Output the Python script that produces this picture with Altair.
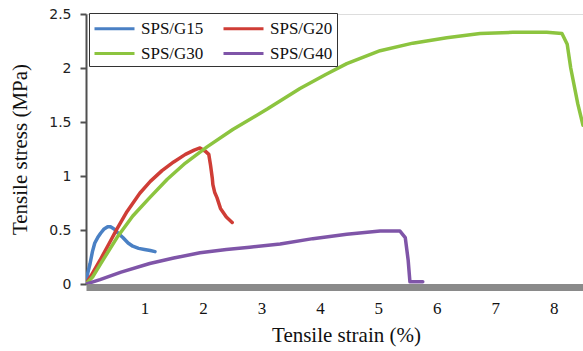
import altair as alt
import pandas as pd

# Tensile stress-strain curves for the SPS/G series
series_names = ["SPS/G15", "SPS/G20", "SPS/G30", "SPS/G40"]
series_colors = ["#4a80c4", "#cf3d36", "#8cc43f", "#7f55a8"]

g15_strain = [0, 0.03, 0.07, 0.11, 0.15, 0.2, 0.25, 0.31, 0.37, 0.42, 0.48, 0.55,
              0.63, 0.72, 0.8, 0.9, 1.0, 1.1, 1.18]
g15_stress = [0, 0.1, 0.19, 0.3, 0.38, 0.43, 0.47, 0.51, 0.53, 0.53, 0.51, 0.47,
              0.43, 0.38, 0.35, 0.33, 0.32, 0.31, 0.30]

g20_strain = [0, 0.1, 0.24, 0.4, 0.53, 0.7, 0.92, 1.1, 1.3, 1.5, 1.7, 1.85, 1.95,
              2.04, 2.1, 2.13, 2.16, 2.17, 2.2, 2.24, 2.3, 2.4, 2.5]
g20_stress = [0, 0.09, 0.22, 0.38, 0.51, 0.67, 0.84, 0.95, 1.05, 1.13, 1.2, 1.24, 1.26,
              1.23, 1.2, 1.1, 0.98, 0.92, 0.85, 0.8, 0.7, 0.62, 0.57]

g30_strain = [0, 0.12, 0.3, 0.53, 0.8, 1.09, 1.39, 1.7, 2.07, 2.51, 3.1, 3.66,
              4.1, 4.46, 5.03, 5.59, 6.17, 6.74, 7.3, 7.88, 8.14, 8.23, 8.29, 8.41, 8.5]
g30_stress = [0, 0.07, 0.23, 0.43, 0.63, 0.8, 0.97, 1.12, 1.27, 1.43, 1.62, 1.81,
              1.94, 2.04, 2.16, 2.23, 2.28, 2.32, 2.33, 2.33, 2.32, 2.22, 2.0, 1.67, 1.47]

g40_strain = [0, 0.24, 0.6, 1.09, 1.5, 1.95, 2.4, 2.8, 3.32, 3.88, 4.46, 5.03, 5.37,
              5.46, 5.51, 5.54, 5.76]
g40_stress = [0, 0.04, 0.11, 0.19, 0.24, 0.29, 0.32, 0.34, 0.37, 0.42, 0.46, 0.49, 0.49,
              0.43, 0.22, 0.02, 0.02]

y_ticks = [0, 0.5, 1, 1.5, 2, 2.5]
x_ticks = [1, 2, 3, 4, 5, 6, 7, 8]

rows = []
for name, xs, ys in zip(
    series_names,
    [g15_strain, g20_strain, g30_strain, g40_strain],
    [g15_stress, g20_stress, g30_stress, g40_stress],
):
    for i, (x, y) in enumerate(zip(xs, ys)):
        rows.append({"series": name, "strain": x, "stress": y, "idx": i})
df = pd.DataFrame(rows)

serif = "Liberation Serif"

chart = (
    alt.Chart(df)
    .mark_line(strokeWidth=3.5, clip=True, strokeCap="round", strokeJoin="round")
    .encode(
        x=alt.X(
            "strain:Q",
            scale=alt.Scale(domain=[0, 8.5], nice=False, zero=False),
            axis=alt.Axis(
                values=x_ticks,
                title="Tensile strain (%)",
                grid=False,
                ticks=False,
                tickSize=0,
                offset=3,
                domainColor="#8a8a8a",
                domainWidth=7,
                labelFont=serif,
                labelFontSize=17,
                labelColor="#111111",
                labelBaseline="alphabetic",
                labelPadding=26,
                titleFont=serif,
                titleFontSize=21,
                titleFontWeight="normal",
                titleColor="#111111",
                titleX=260,
                titleY=54,
                titleAlign="center",
                titleBaseline="alphabetic",
            ),
        ),
        y=alt.Y(
            "stress:Q",
            scale=alt.Scale(domain=[0, 2.5], nice=False),
            axis=alt.Axis(
                values=y_ticks,
                format="~g",
                title="Tensile stress (MPa)",
                grid=False,
                domainColor="#505050",
                domainWidth=2,
                tickColor="#505050",
                tickWidth=2,
                tickSize=6,
                labelFont="DejaVu Sans",
                labelFontSize=14,
                labelColor="#222222",
                labelPadding=9,
                titleFont=serif,
                titleFontSize=21,
                titleFontWeight="normal",
                titleColor="#111111",
                titleAngle=270,
                titleX=-66,
                titleY=135,
                titleAlign="center",
                titleBaseline="middle",
            ),
        ),
        color=alt.Color(
            "series:N",
            scale=alt.Scale(domain=series_names, range=series_colors),
            legend=alt.Legend(
                title=None,
                orient="none",
                direction="horizontal",
                legendX=3,
                legendY=-1,
                columns=2,
                # 40px long line swatch drawn from a custom path
                symbolType="M-1,0H3",
                symbolSize=400,
                symbolStrokeWidth=3,
                labelFont=serif,
                labelFontSize=17,
                labelColor="#111111",
                labelOffset=25,
                columnPadding=13,
                rowPadding=5,
                padding=4,
                strokeColor="#333333",
                fillColor="#ffffff",
            ),
        ),
        order="idx:Q",
        detail="series:N",
    )
    .properties(
        width=497,
        height=270,
        autosize=alt.AutoSizeParams(type="none"),
        padding={"left": 86, "top": 14, "right": 0, "bottom": 67},
    )
    .configure_view(stroke=None)
    .configure(background="#ffffff")
)

chart.save("out.html", embed_options={"renderer": "svg", "actions": False})
